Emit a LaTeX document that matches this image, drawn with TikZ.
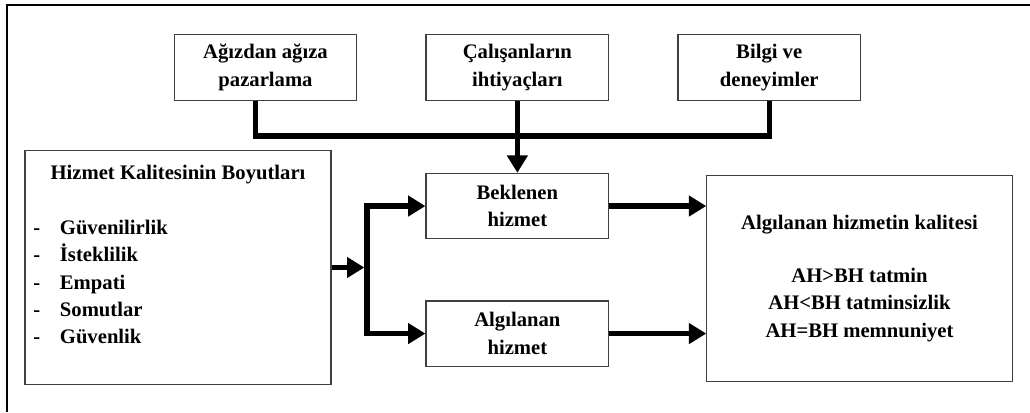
\documentclass[tikz,border=0pt]{standalone}
\usepackage{fontspec}
\setmainfont{Liberation Serif}
\usetikzlibrary{arrows.meta, positioning, calc}

\newcommand{\madde}[1]{\makebox[20pt][l]{-}#1}

\tikzset{
    kutu/.style={draw=black!75, line width=0.9pt, align=center, inner sep=0pt},
    ust/.style={kutu, minimum width=137pt, minimum height=49pt},
    hat/.style={line width=4pt},
    ok/.style={hat, -{Triangle[length=13pt,width=15pt]}}
}

\begin{document}
\begin{tikzpicture}[x=0.75pt, y=-0.75pt, font=\fontsize{15.5}{20.5}\selectfont\bfseries]
    \useasboundingbox (0,0) rectangle (1030,412);

    % Frame (only top and left edges show)
    \draw[line width=1.6pt] (7,412) -- (7,5) -- (1030,5);

    % Top row
    \node[ust] (agiz) at (265.5,67.5) {Ağızdan ağıza\\pazarlama};
    \node[ust, right=51pt of agiz] (calis) {Çalışanların\\ihtiyaçları};
    \node[ust, right=51pt of calis] (bilgi) {Bilgi ve\\deneyimler};

    % Middle boxes
    \node[ust, below=54pt of calis] (bek) {Beklenen\\hizmet};
    \node[ust, below=45.75pt of bek] (alg) {Algılanan\\hizmet};

    % Left box
    \node[kutu, minimum width=229.5pt, minimum height=176pt] (hiz) at (178,267.5) {};
    \node (baslik) at (178,175) {Hizmet Kalitesinin Boyutları};
    \node[align=left, anchor=west, inner sep=0pt] (boyutlar) at (33,282)
        {\madde{Güvenilirlik}\\\madde{İsteklilik}\\\madde{Empati}\\\madde{Somutlar}\\\madde{Güvenlik}};

    % Right box
    \node[kutu, minimum width=229pt, minimum height=155pt] (kal) at (859.5,278.5)
        {Algılanan hizmetin kalitesi\\[19pt]AH>BH tatmin\\AH<BH tatminsizlik\\AH=BH memnuniyet};

    % Connectors
    \coordinate (kav) at (516.5,136);
    \coordinate (dal) at (367,267.5);
    \draw[hat] ([xshift=-7.5pt]agiz.south) |- (kav) -| (bilgi.south);
    \draw[ok] (calis.south) -- (bek.north);
    \draw[ok] (hiz.east) -- ([xshift=-2pt]dal);
    \draw[ok] (dal) |- (bek.west);
    \draw[ok] (dal) |- (alg.west);
    \draw[ok] (bek.east) -- (bek.east -| kal.west);
    \draw[ok] (alg.east) -- (alg.east -| kal.west);
\end{tikzpicture}
\end{document}
